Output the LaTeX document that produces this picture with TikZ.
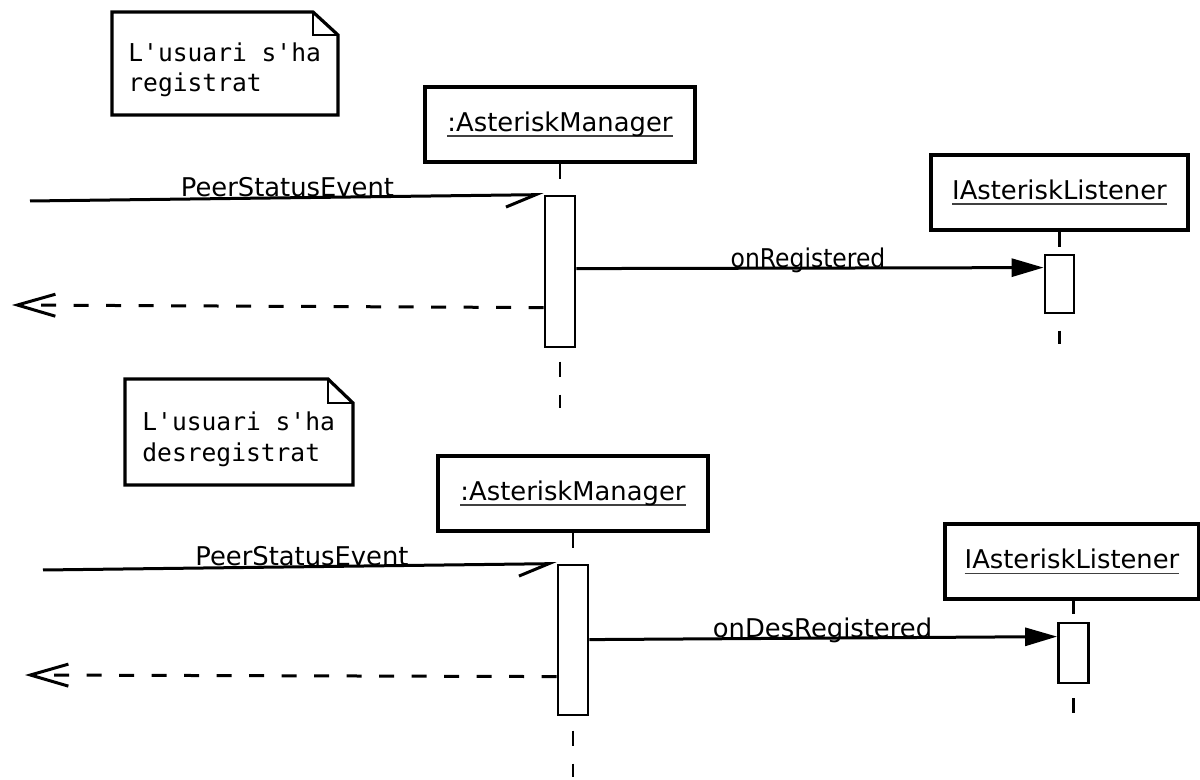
\documentclass[tikz,border=0pt]{standalone}
\usepackage{fontspec}
\newfontfamily\labelfont{DejaVu Sans}
\newfontfamily\notefont{DejaVu Sans Mono}
\usetikzlibrary{arrows.meta,calc}
% object name with a rule drawn just under the baseline
\newcommand\objname[1]{\setbox0\hbox{#1}\rlap{\color{black!75}\rule[-3pt]{\wd0}{0.9pt}}\box0}
\begin{document}
\begin{tikzpicture}[x=0.5pt,y=-0.5pt,
  headbox/.style={draw, line width=1.6pt, fill=white, minimum width=135pt,
    minimum height=37.5pt, inner sep=0pt, font=\labelfont\fontsize{12.9}{15}\selectfont},
  actbox/.style={draw, line width=1.4pt, fill=white, minimum width=15pt, inner sep=0pt},
  lifeline/.style={line width=1.2pt, dash pattern=on 7.5pt off 9pt},
  msglabel/.style={anchor=base, inner sep=0pt, font=\labelfont\fontsize{12.9}{15}\selectfont},
  syncmsg/.style={line width=1.5pt, -{Triangle[length=16pt,width=9pt]}},
  asyncmsg/.style={line width=1.5pt, -{Straight Barb[right,length=15pt,width=12pt]}},
  replymsg/.style={line width=1.5pt, dash pattern=on 7.5pt off 8.75pt,
    -{Straight Barb[length=19pt,width=11pt]}},
  notetext/.style={anchor=base west, inner sep=0pt,
    font=\notefont\fontsize{12.3}{15}\selectfont},
  noteline/.style={line width=1.6pt, line join=miter},
  fold/.style={line width=0.9pt}
]
\useasboundingbox (0,0) rectangle (1200,780);

% ---------- registration ----------
\draw[noteline] (112,115) -- (112,12) -- (313,12) -- (338,35) -- (338,115) -- cycle;
\draw[fold] (313,12) -- (313,35) -- (338,35);
\node[notetext] (t1a) at (128,62) {L'usuari s'ha};
\node[notetext] (t1b) at (128,92) {registrat};

\node[headbox] (m1) at (560,124.5) {\objname{:AsteriskManager}};
\node[headbox, minimum width=128.5pt] (l1) at (1059.5,192.5) {\objname{IAsteriskListener}};
\coordinate (m1end) at (560,408);
\coordinate (l1end) at (1059.5,344);
\draw[lifeline] (m1.south) -- (m1end);
\draw[lifeline] (l1.south) -- (l1end);

\node[actbox, minimum height=75.5pt] (a1) at (560,271.5) {};
\node[actbox, minimum width=14.5pt, minimum height=29pt] (b1) at (1059.5,284) {};

\coordinate (in1) at (30,201);
\coordinate (ret1) at (12,305);
\draw[asyncmsg] (in1) -- (a1.north west);
\node[msglabel] (p1) at (287.5,197) {PeerStatusEvent};
\draw[syncmsg] ($(a1.north east)+(0,74)$) -- ($(b1.north west)+(0,14)$);
\node[msglabel] (o1) at (808,268) {\scalebox{0.91}[1]{onRegistered}};
\draw[replymsg] ($(a1.north west)+(0,113)$) -- (ret1);

% ---------- deregistration ----------
\draw[noteline] (125,485) -- (125,379) -- (328,379) -- (353,403) -- (353,485) -- cycle;
\draw[fold] (328,379) -- (328,403) -- (353,403);
\node[notetext] (t2a) at (142,431) {L'usuari s'ha};
\node[notetext] (t2b) at (142,462) {desregistrat};

\node[headbox] (m2) at (573,493.5) {\objname{:AsteriskManager}};
\node[headbox, minimum width=127pt] (l2) at (1072,561.5) {\objname{IAsteriskListener}};
\coordinate (m2end) at (573,777);
\coordinate (l2end) at (1073.5,713);
\draw[lifeline] (m2.south) -- (m2end);
\draw[lifeline] (1073.5,599) -- (l2end);

\node[actbox, minimum height=75pt] (a2) at (573,640) {};
\node[actbox, minimum height=30pt] (b2) at (1073.5,653) {};

\coordinate (in2) at (43,570);
\coordinate (ret2) at (25,675);
\draw[asyncmsg] (in2) -- (a2.north west);
\node[msglabel] (p2) at (302,566) {PeerStatusEvent};
\draw[syncmsg] ($(a2.north east)+(0,76)$) -- ($(b2.north west)+(0,15)$);
\node[msglabel] (o2) at (822.5,637) {onDesRegistered};
\draw[replymsg] ($(a2.north west)+(0,113)$) -- (ret2);
\end{tikzpicture}
\end{document}
